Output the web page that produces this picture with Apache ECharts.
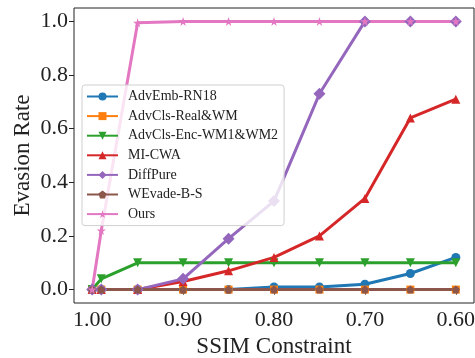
<!DOCTYPE html>
<html>
<head>
<meta charset="utf-8">
<script src="https://cdn.jsdelivr.net/npm/echarts@6/dist/echarts.min.js"></script>
<style>
  html, body { margin: 0; padding: 0; background: #fff; }
  #main { width: 475px; height: 358px; }
</style>
</head>
<body>
<div id="main"></div>
<script>
// SSIM constraint values (x)
const ssim = [1.00, 0.99, 0.95, 0.90, 0.85, 0.80, 0.75, 0.70, 0.65, 0.60]
const xTicks = [1.0, 0.9, 0.8, 0.7, 0.6]
const yTicks = [0, 0.2, 0.4, 0.6, 0.8, 1.0]

// evasion rate per method
const advEmbRN18 = [0, 0, 0, 0, 0, 0.01, 0.01, 0.02, 0.06, 0.12]
const advClsRealWM = [0, 0, 0, 0, 0, 0, 0, 0, 0, 0]
const advClsEncWM = [0, 0.04, 0.10, 0.10, 0.10, 0.10, 0.10, 0.10, 0.10, 0.10]
const miCWA = [0, 0, 0, 0.03, 0.07, 0.12, 0.20, 0.34, 0.64, 0.71]
const diffPure = [0, 0, 0, 0.04, 0.19, 0.33, 0.73, 1.00, 1.00, 1.00]
const wevadeBS = [0, 0, 0, 0, 0, 0, 0, 0, 0, 0]
const ours = [0, 0.22, 0.995, 1.00, 1.00, 1.00, 1.00, 1.00, 1.00, 1.00]

const FONT = 'Liberation Serif'
const star = 'path://M50,0 L61,35 L98,35 L68,57 L79,91 L50,70 L21,91 L32,57 L2,35 L39,35 Z'
const pentagon = 'path://M50,0 L100,38 L81,100 L19,100 L0,38 Z'

const methods = [
  { name: 'AdvEmb-RN18', data: advEmbRN18, color: '#1f77b4', symbol: 'circle', size: 9 },
  { name: 'AdvCls-Real&WM', data: advClsRealWM, color: '#ff7f0e', symbol: 'rect', size: 8 },
  { name: 'AdvCls-Enc-WM1&WM2', data: advClsEncWM, color: '#2ca02c', symbol: 'triangle', size: 9, rotate: 180 },
  { name: 'MI-CWA', data: miCWA, color: '#d62728', symbol: 'triangle', size: 9 },
  { name: 'DiffPure', data: diffPure, color: '#9467bd', symbol: 'diamond', size: 12 },
  { name: 'WEvade-B-S', data: wevadeBS, color: '#8c564b', symbol: pentagon, size: 8 },
  { name: 'Ours', data: ours, color: '#e377c2', symbol: star, size: 9 }
]

const series = methods.map(m => ({
  name: m.name,
  type: 'line',
  data: ssim.map((x, i) => [x, m.data[i]]),
  symbol: m.symbol,
  symbolSize: m.size,
  symbolRotate: m.rotate || 0,
  showAllSymbol: true,
  lineStyle: { width: 3, color: m.color },
  itemStyle: { color: m.color },
  animation: false
}))

const chart = echarts.init(document.getElementById('main'))
chart.setOption({
  animation: false,
  grid: { left: 74, right: 1, top: 8, bottom: 55, show: true, borderColor: '#222', borderWidth: 1,
    containLabel: false, outerBoundsMode: 'none' },
  legend: {
    orient: 'vertical',
    left: 82, top: 85,
    padding: [4, 6, 4, 4],
    itemWidth: 31, itemHeight: 10, itemGap: 4.6,
    backgroundColor: 'rgba(255,255,255,0.8)',
    borderColor: '#d0d0d0', borderWidth: 1, borderRadius: 3,
    textStyle: { fontFamily: FONT, fontSize: 14, color: '#222', lineHeight: 15, padding: [0, 0, 0, 5] },
    data: methods.map(m => m.name)
  },
  xAxis: {
    type: 'value', inverse: true, min: 0.58, max: 1.02,
    name: 'SSIM Constraint', nameLocation: 'middle', nameGap: 30,
    nameTextStyle: { fontFamily: FONT, fontSize: 23, color: '#222' },
    axisLine: { show: false },
    axisTick: { show: true, length: 5, lineStyle: { color: '#222' }, customValues: xTicks },
    axisLabel: { customValues: xTicks, fontFamily: FONT, fontSize: 22, color: '#222', margin: 6,
      formatter: v => v.toFixed(2) },
    splitLine: { show: false }
  },
  yAxis: {
    type: 'value', min: -0.05, max: 1.05,
    name: 'Evasion Rate', nameLocation: 'middle', nameGap: 40, nameMoveOverlap: false,
    nameTextStyle: { fontFamily: FONT, fontSize: 23, color: '#222' },
    axisLine: { show: false },
    axisTick: { show: true, length: 5, lineStyle: { color: '#222' }, customValues: yTicks },
    axisLabel: { customValues: yTicks, fontFamily: FONT, fontSize: 22, color: '#222', margin: 6,
      formatter: v => v.toFixed(1) },
    splitLine: { show: false }
  },
  series: series
})
</script>
</body>
</html>
